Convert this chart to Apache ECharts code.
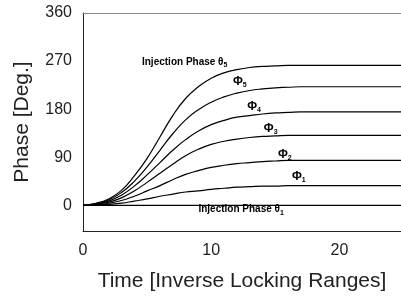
<!DOCTYPE html>
<html>
<head>
<meta charset="utf-8">
<script src="https://cdn.jsdelivr.net/npm/echarts@6/dist/echarts.min.js"></script>
<style>
  html, body { margin: 0; padding: 0; background: #fff; }
  #phase { width: 401px; height: 299px; }
</style>
</head>
<body>
<div id="phase"></div>
<script>
var myChartphase = echarts.init(document.getElementById('phase'));

// time in inverse locking ranges
var time = [0,1,2,3,4,5,6,7,8,9,10,11,12,13,14,15,16,17,18,19,20,21,22,23,24,25];

// phases (degrees)
var theta5 = [0,4,12,28,55,88,128,168,200,222,238,248,254,258,260,261,262,262,262,262,262,262,262,262,262,262];
var phi5   = [0,3,10,24,45,72,103,134,160,179,193,203,210,215,218,220,221,222,222,222,222,222,222,222,222,222];
var phi4   = [0,3,8,19,36,57,80,103,123,139,151,159,165,168,171,173,174,175,175,175,175,175,175,175,175,175];
var phi3   = [0,2,6,14,27,43,60,77,93,105,114,120,124,127,129,130,131,131,131,131,131,131,131,131,131,131];
var phi2   = [0,1,4,9,17,27,37,48,58,65,71,75,78,80,82,83,84,84,84,84,84,84,84,84,84,84];
var phi1   = [0,1,2,4,8,12,17,21,25,27,30,32,34,35,36,36,37,37,37,37,37,37,37,37,37,37];
var theta1 = [0,0,0,0,0,0,0,0,0,0,0,0,0,0,0,0,0,0,0,0,0,0,0,0,0,0];

var xTicks = [0, 10, 20];
var yTicks = [0, 90, 180, 270, 360];

var curves = [
    {name: 'θ5', values: theta5},
    {name: 'Φ5', values: phi5},
    {name: 'Φ4', values: phi4},
    {name: 'Φ3', values: phi3},
    {name: 'Φ2', values: phi2},
    {name: 'Φ1', values: phi1},
    {name: 'θ1', values: theta1}
];

// label text and where it sits (in data units)
var notes = [
    {text: '{b|Injection Phase θ}{s|5}', at: [4.6, 268]},
    {text: '{p|Φ}{s|5}', at: [11.7, 231]},
    {text: '{p|Φ}{s|4}', at: [12.8, 184]},
    {text: '{p|Φ}{s|3}', at: [14.1, 143]},
    {text: '{p|Φ}{s|2}', at: [15.2, 94]},
    {text: '{p|Φ}{s|1}', at: [16.3, 53]},
    {text: '{b|Injection Phase θ}{s|1}', at: [9.0, -8]}
];

var series = curves.map(function (c) {
    return {
        name: c.name,
        type: 'line',
        smooth: true,
        showSymbol: false,
        silent: true,
        lineStyle: {color: '#000', width: 1.2},
        data: time.map(function (x, i) { return [x, c.values[i]]; })
    };
});

option = {
    animation: false,
    grid: {left: 83, top: 13, right: 0, bottom: 68},
    xAxis: [{
        type: 'value',
        min: 0,
        max: 24.8,
        name: 'Time [Inverse Locking Ranges]',
        nameLocation: 'middle',
        nameGap: 40,
        nameTextStyle: {fontFamily: 'Liberation Sans', fontSize: 21, color: '#222'},
        axisLine: {onZero: false, lineStyle: {color: '#222', width: 1}},
        axisTick: {show: false},
        splitLine: {show: false},
        axisLabel: {customValues: xTicks, fontFamily: 'Liberation Sans', fontSize: 16, color: '#222', margin: 12}
    }, {
        type: 'value',
        position: 'top',
        min: 0,
        max: 24.8,
        axisLine: {show: true, onZero: false, lineStyle: {color: '#888', width: 1}},
        axisTick: {show: false},
        axisLabel: {show: false},
        splitLine: {show: false}
    }],
    yAxis: {
        type: 'value',
        min: -48,
        max: 360,
        name: 'Phase [Deg.]',
        nameLocation: 'middle',
        nameGap: 50,
        nameTextStyle: {fontFamily: 'Liberation Sans', fontSize: 21, color: '#222'},
        axisLine: {show: true, lineStyle: {color: '#222', width: 1}},
        axisTick: {show: false},
        splitLine: {show: false},
        axisLabel: {customValues: yTicks, fontFamily: 'Liberation Sans', fontSize: 16, color: '#222', margin: 11}
    },
    series: series
};

myChartphase.setOption(option);

var rich = {
    b: {fontFamily: 'Liberation Sans', fontSize: 10, fontWeight: 'bold', color: '#111'},
    p: {fontFamily: 'Liberation Sans', fontSize: 12, fontWeight: 'bold', color: '#111'},
    s: {fontFamily: 'Liberation Sans', fontSize: 7, fontWeight: 'bold', color: '#111', padding: [6, 0, 0, 0]}
};

myChartphase.setOption({
    graphic: notes.map(function (n) {
        var pos = myChartphase.convertToPixel({xAxisIndex: 0, yAxisIndex: 0}, n.at);
        return {
            type: 'text',
            x: pos[0],
            y: pos[1],
            silent: true,
            style: {text: n.text, rich: rich, align: 'left', verticalAlign: 'middle'}
        };
    })
});
</script>
</body>
</html>
